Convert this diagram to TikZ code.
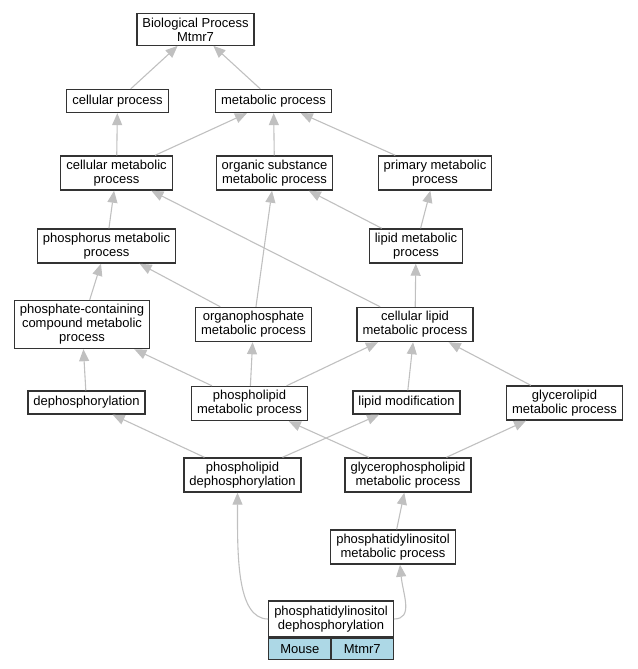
\documentclass[tikz,border=0pt]{standalone}
\usepackage{fontspec}
\setmainfont{Liberation Sans}
\usepackage{tikz}
\usetikzlibrary{arrows.meta,positioning}
\definecolor{edgegray}{RGB}{192,192,192}
\definecolor{boxline}{RGB}{51,51,51}
\definecolor{cellblue}{RGB}{173,216,230}

\begin{document}
\begin{tikzpicture}[x=1pt, y=-1pt,
    box/.style={draw=boxline, line width=1.3pt, fill=white, align=center,
                inner xsep=5.5pt, inner ysep=4pt, minimum height=23pt,
                font=\fontsize{13}{14}\selectfont},
    cell/.style={box, fill=cellblue, minimum width=62pt, minimum height=21pt, inner ysep=2pt},
    edge/.style={draw=edgegray, line width=1.1pt, ->},
    >={Triangle[length=12pt,width=10pt]}
]
\useasboundingbox (0,0) rectangle (637,669);

% top levels
\node[box] (bp) at (195.5, 29.5) {Biological Process\\Mtmr7};
\node[box] (cp) at (117.5, 101) {cellular process};
\node[box] (mp) at (273.5, 101) {metabolic process};
\node[box] (cmp) at (116.5, 173) {cellular metabolic\\process};
\node[box] (osmp) at (274.5, 173) {organic substance\\metabolic process};
\node[box] (pmp) at (435, 173) {primary metabolic\\process};
\node[box] (phmp) at (106.5, 246) {phosphorus metabolic\\process};
\node[box] (lmp) at (416, 246) {lipid metabolic\\process};
\node[box] (pccmp) at (82, 324.5) {phosphate-containing\\compound metabolic\\process};
\node[box] (opmp) at (253.5, 324.5) {organophosphate\\metabolic process};
\node[box] (clmp) at (415, 324.5) {cellular lipid\\metabolic process};
\node[box] (deph) at (86.5, 402.5) {dephosphorylation};
\node[box] (plmp) at (249.5, 403.5) {phospholipid\\metabolic process};
\node[box] (lm) at (406.5, 402.5) {lipid modification};
\node[box] (glmp) at (564.5, 403) {glycerolipid\\metabolic process};
\node[box] (pld) at (242.5, 475) {phospholipid\\dephosphorylation};
\node[box] (gpmp) at (408, 475) {glycerophospholipid\\metabolic process};
\node[box] (pimp) at (393, 547) {phosphatidylinositol\\metabolic process};

% annotated term
\node[box, minimum width=124pt, minimum height=36pt] (pid) at (331, 619) {phosphatidylinositol\\dephosphorylation};
\node[cell, anchor=north west] (pidorg) at (pid.south west) {Mouse};
\node[cell, anchor=north east] (pidgene) at (pid.south east) {Mtmr7};

% is_a edges
\draw[edge] (cp) -- (bp);
\draw[edge] (mp) -- (bp);
\draw[edge] (cmp) -- (cp);
\draw[edge] (cmp) -- (mp);
\draw[edge] (osmp) -- (mp);
\draw[edge] (pmp) -- (mp);
\draw[edge] (phmp) -- (cmp);
\draw[edge] (lmp) -- (osmp);
\draw[edge] (lmp) -- (pmp);
\draw[edge] (clmp) -- (cmp);
\draw[edge] (clmp) -- (lmp);
\draw[edge] (opmp) -- (osmp);
\draw[edge] (opmp) -- (phmp);
\draw[edge] (pccmp) -- (phmp);
\draw[edge] (deph) -- (pccmp);
\draw[edge] (plmp) -- (pccmp);
\draw[edge] (plmp) -- (opmp);
\draw[edge] (plmp) -- (clmp);
\draw[edge] (lm) -- (clmp);
\draw[edge] (glmp) -- (clmp);
\draw[edge] (pld) -- (deph);
\draw[edge] (pld) -- (lm);
\draw[edge] (gpmp) -- (plmp);
\draw[edge] (gpmp) -- (glmp);
\draw[edge] (pimp) -- (gpmp);
\draw[edge] (pid.west) .. controls +(-32,0) and +(0,60) .. ([xshift=-5pt]pld.south);
\draw[edge] (pid.east) .. controls +(20,0) and +(3,30) .. ([xshift=7pt]pimp.south);
\end{tikzpicture}
\end{document}
